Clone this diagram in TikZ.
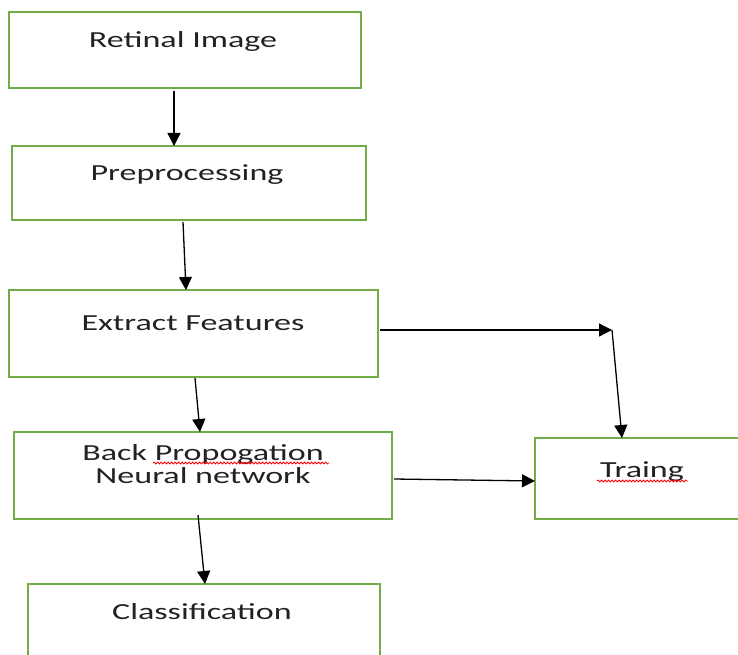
\documentclass[tikz,border=0pt]{standalone}
\usepackage{fontspec}
\setmainfont{Carlito}[FakeStretch=1.48]
\usetikzlibrary{arrows.meta,decorations.pathmorphing}
\definecolor{boxgreen}{HTML}{70AD47}
\definecolor{txt}{HTML}{222222}
\tikzset{
  x=1pt, y=-1pt,
  box/.style={draw=boxgreen, line width=1.6pt},
  lbl/.style={text=txt, font=\fontsize{23}{27}\selectfont, inner sep=0pt, anchor=base},
  conn/.style={draw=black, line width=1.3pt, -{Triangle[width=13pt,length=13pt]}},
  squig/.style={draw=red, line width=0.8pt, decorate, decoration={snake, amplitude=1pt, segment length=3.5pt}}
}
\begin{document}
\begin{tikzpicture}
\useasboundingbox (0,0) rectangle (738,655);
\clip (0,0) rectangle (738,655);
% boxes
\draw[box] (9,12) rectangle (361,88);
\draw[box] (12,146) rectangle (366,220);
\draw[box] (9,290) rectangle (378,377);
\draw[box] (14,432) rectangle (392,519);
\draw[box] (535,438) rectangle (745,519);
\draw[box] (28,584) rectangle (380,665);
% anchor coordinates
\coordinate (b1s) at (174,91);
\coordinate (b2n) at (174,146);
\coordinate (b2s) at (183,222);
\coordinate (b3n) at (186,290);
\coordinate (b3s) at (195,378);
\coordinate (b4n) at (200,432);
\coordinate (b3e) at (380,330);
\coordinate (elbow) at (612,330);
\coordinate (b5n) at (622,438);
\coordinate (b4e) at (394,479);
\coordinate (b5w) at (535,481);
\coordinate (b4s) at (198,515);
\coordinate (b6n) at (205,584);
% labels
\node[lbl] (t1) at (183,48) {Retinal Image};
\node[lbl] (t2) at (187,180) {Preprocessing};
\node[lbl] (t3) at (193,330) {Extract Features};
\node[lbl] (t4a) at (203,460) {Back Propogation};
\node[lbl] (t4b) at (203,483) {Neural network};
\node[lbl] (t5) at (642,477) {Traing};
\node[lbl] (t6) at (202,619) {Classification};
% spell-check squiggles
\draw[squig] (153,463) -- (329,463);
\draw[squig] (597,481) -- (688,481);
% connectors
\draw[conn] (b1s) -- (b2n);
\draw[conn] (b2s) -- (b3n);
\draw[conn] (b3s) -- (b4n);
\draw[conn] (b3e) -- (elbow);
\draw[conn] (elbow) -- (b5n);
\draw[conn] (b4e) -- (b5w);
\draw[conn] (b4s) -- (b6n);
\end{tikzpicture}
\end{document}
